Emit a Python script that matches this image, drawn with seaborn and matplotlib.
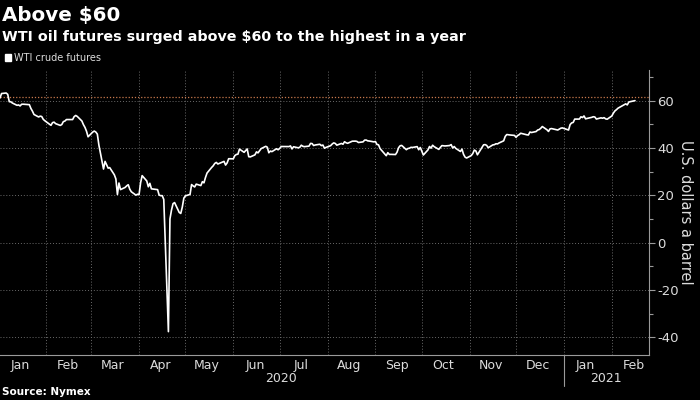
import matplotlib
matplotlib.use('Agg')
import pandas as pd
import matplotlib.pyplot as plt
import matplotlib.dates as mdates
import matplotlib.transforms as mtransforms
from matplotlib.patches import Patch
from matplotlib.ticker import MultipleLocator, NullFormatter
import seaborn as sns

# WTI front-month futures, USD a barrel, one list per month (trading days)
jan_2020 = [61.18, 63.05, 63.27, 62.70, 59.61, 59.56, 59.04, 58.08, 58.23, 57.81, 58.52,
            58.54, 58.34, 56.74, 55.59, 54.19, 53.14, 53.48, 53.33, 52.14, 51.56]
feb_2020 = [50.11, 49.61, 50.75, 50.95, 50.32, 49.57, 49.94, 51.17, 51.42, 52.05,
            52.05, 53.29, 53.78, 53.38, 51.43, 49.90, 48.73, 47.09, 44.76]
mar_2020 = [46.75, 47.18, 46.78, 45.90, 41.28, 31.13, 34.36, 32.98, 31.50, 31.73, 28.70,
            26.95, 20.37, 25.22, 22.43, 23.36, 24.01, 24.49, 22.60, 21.51, 20.09, 20.48]
apr_2020 = [20.31, 25.32, 28.34, 26.08, 23.63, 25.09, 22.76, 22.41, 20.11, 19.87, 19.87,
            18.27, -37.63, 10.01, 13.78, 16.50, 16.94, 12.78, 12.34, 15.06, 18.84]
may_2020 = [19.78, 20.39, 24.56, 23.99, 23.55, 24.74, 24.14, 25.78, 25.29, 27.56,
            29.43, 31.82, 32.50, 33.49, 33.92, 33.25, 34.35, 32.81, 33.71, 35.49]
jun_2020 = [35.44, 36.81, 37.29, 37.41, 39.55, 38.19, 38.94, 39.60, 36.34, 36.26, 37.12,
            38.38, 37.96, 38.84, 39.75, 40.73, 40.37, 38.01, 38.72, 38.49, 39.70, 39.27]
jul_2020 = [39.82, 40.65, 40.63, 40.62, 40.90, 39.62, 40.55, 40.10, 40.29, 41.20, 40.75,
            40.59, 40.81, 41.96, 41.90, 41.07, 41.29, 41.60, 41.04, 41.27, 39.92, 40.27]
aug_2020 = [41.01, 41.70, 42.19, 41.95, 41.22, 41.94, 41.61, 42.67, 42.24, 42.01, 42.89,
            42.89, 42.93, 42.82, 42.34, 42.62, 43.35, 43.39, 43.04, 42.97, 42.61]
sep_2020 = [42.76, 41.51, 41.37, 39.77, 36.76, 38.05, 37.30, 37.33, 37.26, 38.28, 40.16,
            40.97, 41.11, 39.31, 39.80, 39.93, 40.31, 40.25, 40.60, 39.29, 40.22]
oct_2020 = [38.72, 37.05, 39.22, 40.67, 39.95, 41.19, 40.60, 39.43, 40.20, 41.04, 40.96,
            40.88, 41.06, 41.46, 40.03, 40.64, 39.85, 38.56, 39.57, 37.39, 36.17, 35.79]
nov_2020 = [36.81, 37.66, 39.15, 38.79, 37.14, 40.29, 41.36, 41.45, 41.12, 40.13,
            41.34, 41.43, 41.82, 41.74, 42.15, 43.06, 44.91, 45.71, 45.53, 45.34]
dec_2020 = [44.55, 45.28, 45.64, 46.26, 45.76, 45.60, 45.52, 46.78, 46.57, 46.99, 47.62,
            47.82, 48.36, 49.10, 47.74, 47.02, 48.12, 48.23, 47.62, 48.00, 48.40, 48.52]
jan_2021 = [47.62, 49.93, 50.63, 50.83, 52.24, 52.25, 53.21, 52.91, 53.57, 52.36,
            52.98, 53.24, 53.13, 52.27, 52.77, 52.61, 52.85, 52.34, 52.20]
feb_2021 = [53.55, 54.76, 55.69, 56.23, 56.85, 57.97, 58.36, 58.68, 58.24, 59.47, 60.05]

market_holidays = ['2020-01-20', '2020-02-17', '2020-04-10', '2020-05-25', '2020-07-03',
                   '2020-09-07', '2020-11-26', '2020-12-25', '2021-01-01', '2021-01-18',
                   '2021-02-15']
first_day, last_day = '2020-01-02', '2021-02-16'
year_labels = ['2020', '2021']
y_ticks = [-40, -20, 0, 20, 40, 60]
high_line = 61.5

prices = (jan_2020 + feb_2020 + mar_2020 + apr_2020 + may_2020 + jun_2020 + jul_2020
          + aug_2020 + sep_2020 + oct_2020 + nov_2020 + dec_2020 + jan_2021 + feb_2021)
dates = pd.bdate_range(first_day, last_day, freq='C', holidays=market_holidays)
assert len(dates) == len(prices), (len(dates), len(prices))
df = pd.DataFrame({'date': dates, 'price': prices})

sns.set_style('dark', {'axes.facecolor': 'black', 'figure.facecolor': 'black'})
plt.rcParams['font.family'] = ['DejaVu Sans']
plt.rcParams['axes.unicode_minus'] = False
txt = '#dcdcdc'
grid_c = '#6a6a6a'

fig = plt.figure(figsize=(7, 4), dpi=100)
fig.patch.set_facecolor('black')
ax = fig.add_axes([0.0, 0.1125, 0.927, 0.7125])
ax.set_facecolor('black')

sns.lineplot(data=df, x='date', y='price', color='white', lw=1.2, ax=ax)
ax.axhline(high_line, color='#c8784c', ls=(0, (1, 1.5)), lw=0.9, zorder=1)

ax.set_xlim(pd.Timestamp('2020-01-02'), pd.Timestamp('2021-02-25'))
ax.set_ylim(-47.5, 73)

# month boundaries carry ticks and grid, labels sit mid-month
ax.xaxis.set_major_locator(mdates.MonthLocator(bymonthday=1))
ax.xaxis.set_major_formatter(NullFormatter())
ax.xaxis.set_minor_locator(mdates.MonthLocator(bymonthday=15))
ax.xaxis.set_minor_formatter(mdates.DateFormatter('%b'))
ax.tick_params(axis='x', which='major', length=5, width=0.8, color='#9a9a9a', direction='out')
ax.tick_params(axis='x', which='minor', length=0, pad=3, labelsize=9, labelcolor=txt)

ax.yaxis.tick_right()
ax.yaxis.set_label_position('right')
ax.set_yticks(y_ticks)
ax.yaxis.set_minor_locator(MultipleLocator(10))
ax.tick_params(axis='y', which='major', length=4, width=0.8, color='#9a9a9a', pad=2,
               labelsize=9.5, labelcolor=txt)
ax.tick_params(axis='y', which='minor', length=3, width=0.8, color='#9a9a9a')

ax.grid(True, which='major', axis='both', color=grid_c, ls=(0, (1, 2)), lw=0.7)
ax.grid(False, which='minor')
for side in ['left', 'top']:
    ax.spines[side].set_visible(False)
for side in ['right', 'bottom']:
    ax.spines[side].set_visible(True)
    ax.spines[side].set_color('#9a9a9a')
    ax.spines[side].set_linewidth(0.8)

ax.set_xlabel('')
ax.set_ylabel('U.S. dollars a barrel', rotation=270, color=txt, fontsize=10.5, va='center')
ax.yaxis.set_label_coords(1.056, 0.5)

# year row under the month labels
trans = mtransforms.blended_transform_factory(ax.transData, ax.transAxes)
year_mid = [pd.Timestamp('2020-07-02'), pd.Timestamp('2021-01-28')]
for label, mid in zip(year_labels, year_mid):
    ax.text(mdates.date2num(mid), -0.082, label, transform=trans, ha='center', va='center',
            color=txt, fontsize=9)
sep = mdates.date2num(pd.Timestamp('2021-01-01'))
ax.plot([sep, sep], [0, -0.11], transform=trans, color='#9a9a9a', lw=0.8, clip_on=False)

fig.text(0.003, 0.962, 'Above $60', fontsize=14.3, weight='bold', color='white', va='center')
fig.text(0.003, 0.907, 'WTI oil futures surged above $60 to the highest in a year',
         fontsize=10.3, weight='bold', color='white', va='center')
fig.legend(handles=[Patch(facecolor='white', label='WTI crude futures')], loc='center left',
           bbox_to_anchor=(-0.005, 0.855), frameon=False, fontsize=7, labelcolor=txt,
           handlelength=0.6, handleheight=0.6, handletextpad=0.3)
fig.text(0.003, 0.02, 'Source: Nymex', fontsize=7.5, weight='bold', color='white', va='center')

fig.savefig('out.png', dpi=100, facecolor='black')
